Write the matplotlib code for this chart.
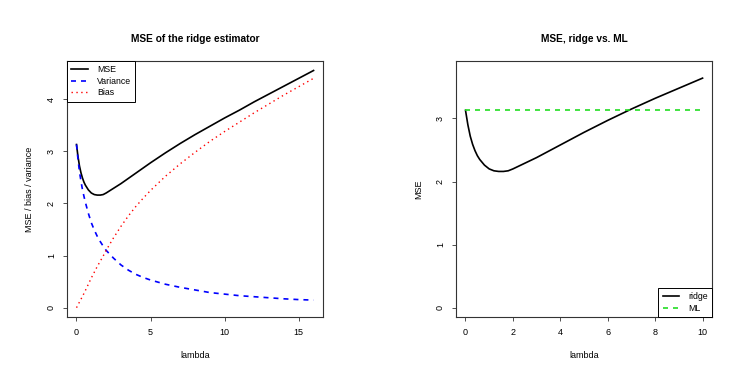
import numpy as np
import matplotlib.pyplot as plt

plt.rcParams['font.family'] = ['Liberation Sans', 'DejaVu Sans']

# values
lam = [0, 0.1, 0.2, 0.3, 0.4, 0.5, 0.6, 0.8, 1.0, 1.2, 1.4, 1.6, 1.8, 2.0, 2.5,
       3, 3.5, 4, 4.5, 5, 6, 7, 8, 9, 10, 11, 12, 13, 14, 15, 16]
mse = [3.13, 2.90, 2.72, 2.59, 2.49, 2.41, 2.35, 2.26, 2.20, 2.17, 2.16, 2.16, 2.17, 2.20, 2.29,
       2.38, 2.48, 2.58, 2.68, 2.78, 2.97, 3.15, 3.32, 3.48, 3.64, 3.79, 3.95, 4.10, 4.25, 4.40, 4.55]
variance = [3.13, 2.85, 2.61, 2.43, 2.27, 2.14, 2.02, 1.81, 1.63, 1.49, 1.37, 1.27, 1.18, 1.10, 0.95,
            0.82, 0.72, 0.64, 0.58, 0.53, 0.45, 0.39, 0.34, 0.29, 0.26, 0.23, 0.21, 0.19, 0.17, 0.155, 0.145]
bias = [0, 0.05, 0.11, 0.16, 0.22, 0.27, 0.33, 0.45, 0.57, 0.68, 0.79, 0.89, 0.99, 1.10, 1.34,
        1.56, 1.76, 1.94, 2.10, 2.25, 2.52, 2.76, 2.98, 3.19, 3.38, 3.56, 3.74, 3.91, 4.08, 4.24, 4.40]
ml_mse = 3.13
lam_max_right = 10

fs = 6.5
box_col = '#333333'


def r_style(ax, xticks, yticks):
    for s in ax.spines.values():
        s.set_color(box_col)
        s.set_linewidth(0.8)
    ax.set_xticks(xticks)
    ax.set_yticks(yticks)
    ax.set_yticklabels([str(t) for t in yticks], rotation=90, va='center')
    ax.tick_params(direction='out', length=3, width=0.6, color=box_col,
                   labelsize=fs, pad=5)


def r_legend(ax, loc):
    leg = ax.legend(loc=loc, borderaxespad=0, fancybox=False, edgecolor='black',
                    framealpha=1, fontsize=6.3, handlelength=1.9, labelspacing=0.28,
                    borderpad=0.5, handletextpad=1.0)
    leg.get_frame().set_linewidth(0.7)
    return leg


fig = plt.figure(figsize=(7.53, 3.82), dpi=100)

# left panel
ax1 = fig.add_axes([0.089, 0.170, 0.340, 0.670])
ax1.plot(lam, mse, color='black', lw=1.2, label='MSE')
ax1.plot(lam, variance, color='blue', lw=1.2, ls=(0, (3, 3)), label='Variance')
ax1.plot(lam, bias, color='red', lw=1.0, ls=(0, (1, 2.5)), label='Bias')
ax1.set_xlim(-0.64, 16.64)
ax1.set_ylim(-0.18, 4.73)
r_style(ax1, [0, 5, 10, 15], [0, 1, 2, 3, 4])
ax1.set_title('MSE of the ridge estimator', fontsize=7.3, fontweight='bold', pad=14)
ax1.set_xlabel('lambda', fontsize=fs, labelpad=10)
ax1.set_ylabel('MSE / bias / variance', fontsize=fs, labelpad=9)
r_legend(ax1, 'upper left')

# right panel
lam_r = [l for l in lam if l <= lam_max_right]
mse_r = mse[:len(lam_r)]
ax2 = fig.add_axes([0.6056, 0.170, 0.340, 0.670])
ax2.plot(lam_r, mse_r, color='black', lw=1.2, label='ridge')
ax2.plot([0, lam_max_right], [ml_mse, ml_mse], color='#22dd22', lw=1.2,
         ls=(0, (3, 3)), label='ML')
ax2.set_xlim(-0.4, 10.4)
ax2.set_ylim(-0.15, 3.91)
r_style(ax2, [0, 2, 4, 6, 8, 10], [0, 1, 2, 3])
ax2.set_title('MSE, ridge vs. ML', fontsize=7.3, fontweight='bold', pad=14)
ax2.set_xlabel('lambda', fontsize=fs, labelpad=10)
ax2.set_ylabel('MSE', fontsize=fs, labelpad=9)
r_legend(ax2, 'lower right')

fig.savefig('out.png', dpi=100)
